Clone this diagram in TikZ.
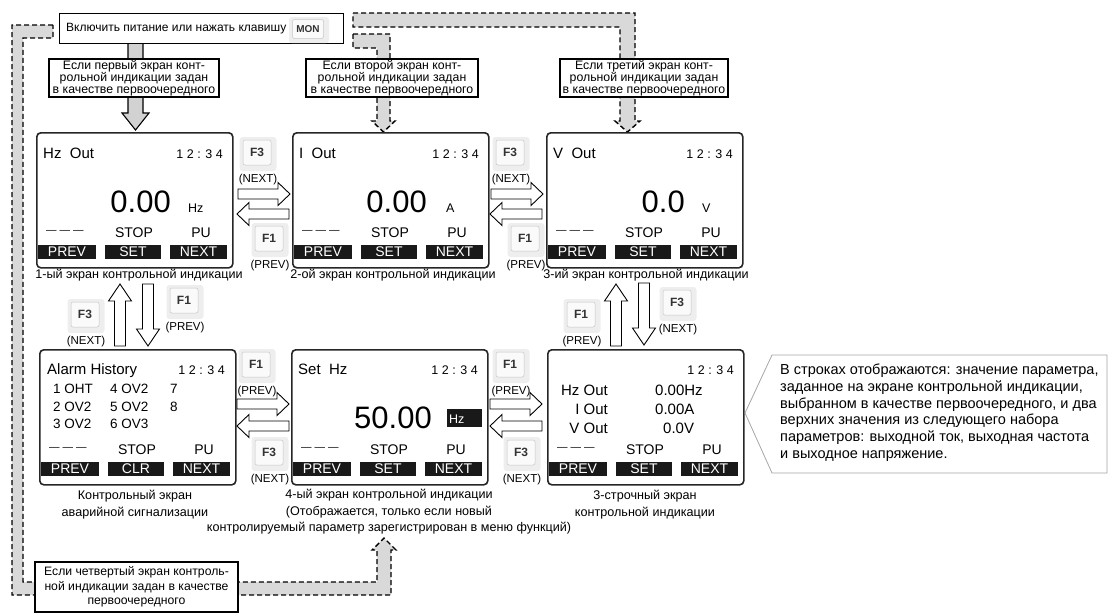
\documentclass[tikz,border=0pt]{standalone}
\usepackage{fontspec}
\setmainfont{Liberation Sans}
\usetikzlibrary{positioning}
\newcommand{\fsz}[1]{\fontsize{#1}{#1}\selectfont}
\tikzset{
    screen/.style={draw=black!85, rounded corners=4pt, line width=1.6pt, fill=white, minimum width=196pt, minimum height=135pt, inner sep=0pt, anchor=north west},
    softkey/.style={fill=black!90, text=white, inner sep=0pt, minimum height=13.5pt, font=\fsz{14}},
    infobox/.style={draw, line width=1.4pt, fill=white, align=center, inner sep=0pt, font=\fontsize{12.3}{12}\selectfont},
    band/.style={draw, fill=gray!30, dash pattern=on 5pt off 3pt, line width=1.4pt},
    keyback/.style={fill=gray!13, rounded corners=3pt, minimum width=37pt, minimum height=34pt, inner sep=0pt},
    keyface/.style={draw=gray!45, fill=gray!4, rounded corners=2pt, line width=0.5pt, minimum width=28pt, minimum height=25pt, inner sep=0pt, font=\fsz{12}\bfseries, text=black!80},
    keylbl/.style={inner sep=0pt, font=\fsz{11.5}},
    txt/.style={inner sep=0pt, anchor=base west},
    lbl/.style={inner sep=0pt, align=center, font=\fontsize{12.6}{16.5}\selectfont},
    hollow/.style={draw, fill=white, line width=0.9pt},
    harr/.pic={\draw[hollow] (-26,-5)--(14,-5)--(14,-11.5)--(26,0)--(14,11.5)--(14,5)--(-26,5)--cycle;},
    varr/.pic={\draw[hollow] (-31,-5.5)--(14,-5.5)--(14,-11.5)--(31,0)--(14,11.5)--(14,5.5)--(-31,5.5)--cycle;},
}
% key with its caption below
\newcommand{\fkey}[5]{%
  \node[keyback] (#1) at (#2,#3) {};
  \node[keyface] (#1f) at (#2-1,#3-1.5) {#4};
  \node[keylbl] (#1l) at (#2,#3+26) {(#5)};
}
% status line and soft keys of a screen
\newcommand{\scrbottom}[2]{%
  \node[inner sep=0pt, anchor=west, font=\fsz{10.5}] (#1dash) at (10,100) {—\hspace{3pt}—\hspace{3pt}—};
  \node[txt, anchor=base, font=\fsz{14}] (#1stop) at (98,105) {STOP};
  \node[txt, anchor=base, font=\fsz{14}] (#1pu) at (165,105) {PU};
  \node[softkey, minimum width=58pt] (#1prev) at (31,120) {PREV};
  \node[softkey, minimum width=56pt] (#1mid) at (97,120) {#2};
  \node[softkey, minimum width=57pt] (#1next) at (162.5,120) {NEXT};
}

\begin{document}
\begin{tikzpicture}[x=1pt, y=-1pt, font=\fsz{12}]
\useasboundingbox (0,0) rectangle (1109,614);

% dashed bands
\draw[band] (53,25) -- (12,25) -- (12,595) -- (391,595) -- (391,550) -- (396,550) -- (384,538) -- (372,550) -- (377,550) -- (377,582) -- (23,582) -- (23,38) -- (53,38) -- cycle;
\draw[band] (353,13) -- (635,13) -- (635,121) -- (640,121) -- (627.5,132) -- (615,121) -- (620,121) -- (620,27) -- (353,27) -- cycle;
\draw[band] (353,34) -- (390,34) -- (390,121) -- (395,121) -- (383.5,132) -- (372,121) -- (377,121) -- (377,48) -- (353,48) -- cycle;
% solid arrow to 1st screen
\draw[fill=gray!35, line width=1.1pt] (128,43) -- (143,43) -- (143,113) -- (149,113) -- (135.5,130) -- (122,113) -- (128,113) -- cycle;

% start box
\node[infobox, minimum width=284pt, minimum height=30pt, anchor=north west] (start) at (59,13) {};
\node[txt, anchor=west] (startt) at (66,28.5) {Включить питание или нажать клавишу};
\node[keyback, minimum width=40pt, minimum height=26pt] (mon) at (309,30) {};
\node[keyface, minimum width=31pt, minimum height=19pt, font=\fsz{10}\bfseries] (monf) at (308,29) {MON};

% priority boxes
\node[infobox, minimum width=170pt, minimum height=38pt] (pr1) at (134,78) {Если первый экран конт-\\рольной индикации задан\\в качестве первоочередного};
\node[infobox, minimum width=172pt, minimum height=38pt] (pr2) at (392,78) {Если второй экран конт-\\рольной индикации задан\\в качестве первоочередного};
\node[infobox, minimum width=168pt, minimum height=38pt] (pr3) at (644,78) {Если третий экран конт-\\рольной индикации задан\\в качестве первоочередного};
\node[infobox, minimum width=203pt, minimum height=50pt, font=\fontsize{12.2}{14.5}\selectfont] (pr4) at (136.5,587) {Если четвертый экран контроль-\\ной индикации задан в качестве\\первоочередного};

% 1st screen
\begin{scope}[shift={(36,132)}]
\node[screen] (scr1) at (0,0) {};
\node[txt, font=\fsz{15}] (scr1t) at (7,26) {Hz\ \ Out};
\node[txt, anchor=base east, font=\fsz{12.5}] (scr1c) at (187,26) {1 2 : 3 4};
\node[txt, anchor=base east, font=\fsz{31}] (scr1v) at (135,80) {0.00};
\node[txt, font=\fsz{12.5}] (scr1u) at (152,80) {Hz};
\scrbottom{scr1}{SET}
\end{scope}
% 2nd screen
\begin{scope}[shift={(292,132)}]
\node[screen] (scr2) at (0,0) {};
\node[txt, font=\fsz{15}] (scr2t) at (7,26) {I\ \ Out};
\node[txt, anchor=base east, font=\fsz{12.5}] (scr2c) at (187,26) {1 2 : 3 4};
\node[txt, anchor=base east, font=\fsz{31}] (scr2v) at (135,80) {0.00};
\node[txt, font=\fsz{12.5}] (scr2u) at (154,80) {A};
\scrbottom{scr2}{SET}
\end{scope}
% 3rd screen
\begin{scope}[shift={(546,132)}]
\node[screen] (scr3) at (0,0) {};
\node[txt, font=\fsz{15}] (scr3t) at (7,26) {V\ \ Out};
\node[txt, anchor=base east, font=\fsz{12.5}] (scr3c) at (187,26) {1 2 : 3 4};
\node[txt, anchor=base east, font=\fsz{31}] (scr3v) at (139,80) {0.0};
\node[txt, font=\fsz{12.5}] (scr3u) at (156,80) {V};
\scrbottom{scr3}{SET}
\end{scope}
% alarm screen
\begin{scope}[shift={(39,349)}]
\node[screen] (scr4) at (0,0) {};
\node[txt, font=\fsz{15}] (scr4t) at (8,25) {Alarm History};
\node[txt, anchor=base east, font=\fsz{12.5}] (scr4c) at (186,25) {1 2 : 3 4};
\node[txt, font=\fsz{13.5}] (al1) at (14,44) {1 OHT};
\node[txt, font=\fsz{13.5}] (al4) at (71,44) {4 OV2};
\node[txt, font=\fsz{13.5}] (al7) at (131,44) {7};
\node[txt, font=\fsz{13.5}] (al2) at (14,62) {2 OV2};
\node[txt, font=\fsz{13.5}] (al5) at (71,62) {5 OV2};
\node[txt, font=\fsz{13.5}] (al8) at (131,62) {8};
\node[txt, font=\fsz{13.5}] (al3) at (14,79) {3 OV2};
\node[txt, font=\fsz{13.5}] (al6) at (71,79) {6 OV3};
\scrbottom{scr4}{CLR}
\end{scope}
% 4th screen
\begin{scope}[shift={(291,349)}]
\node[screen] (scr5) at (0,0) {};
\node[txt, font=\fsz{15}] (scr5t) at (7,25) {Set\ \ Hz};
\node[txt, anchor=base east, font=\fsz{12.5}] (scr5c) at (187,25) {1 2 : 3 4};
\node[txt, anchor=base east, font=\fsz{31}] (scr5v) at (141,79) {50.00};
\fill[black!90] (156,60) rectangle (191,78);
\node[txt, text=white, font=\fsz{12.5}] (scr5u) at (158,74) {Hz};
\scrbottom{scr5}{SET}
\end{scope}
% 3-line screen
\begin{scope}[shift={(547,349)}]
\node[screen] (scr6) at (0,0) {};
\node[txt, anchor=base east, font=\fsz{12.5}] (scr6c) at (187,25) {1 2 : 3 4};
\node[txt, anchor=base east, font=\fsz{15}] (scr6a) at (61,46) {Hz Out};
\node[txt, anchor=base east, font=\fsz{15}] (scr6b) at (61,65) {I Out};
\node[txt, anchor=base east, font=\fsz{15}] (scr6d) at (61,84) {V Out};
\node[txt, font=\fsz{15}] (scr6av) at (108,46) {0.00Hz};
\node[txt, font=\fsz{15}] (scr6bv) at (108,65) {0.00A};
\node[txt, font=\fsz{15}] (scr6dv) at (116,84) {0.0V};
\scrbottom{scr6}{SET}
\end{scope}

% captions
\node[lbl] (cap1) at (139,275) {1-ый экран контрольной индикации};
\node[lbl] (cap2) at (393,275) {2-ой экран контрольной индикации};
\node[lbl] (cap3) at (646,275) {3-ий экран контрольной индикации};
\node[lbl] (cap4) at (135,504.5) {Контрольный экран\\аварийной сигнализации};
\node[lbl] (cap5) at (389,512) {4-ый экран контрольной индикации\\(Отображается, только если новый\\контролируемый параметр зарегистрирован в меню функций)};
\node[lbl] (cap6) at (645,504.5) {3-строчный экран\\контрольной индикации};

% keys
\fkey{ka}{258}{154}{F3}{NEXT}
\fkey{kb}{270}{240}{F1}{PREV}
\fkey{kc}{511}{154}{F3}{NEXT}
\fkey{kd}{526}{240}{F1}{PREV}
\fkey{ke}{86}{316}{F3}{NEXT}
\fkey{kf}{185}{302}{F1}{PREV}
\fkey{kg}{582}{316}{F1}{PREV}
\fkey{kh}{678}{304}{F3}{NEXT}
\fkey{ki}{257}{366}{F1}{PREV}
\fkey{kj}{270}{454}{F3}{NEXT}
\fkey{kk}{511}{366}{F1}{PREV}
\fkey{kl}{522}{454}{F3}{NEXT}

% hollow arrows
\pic at (264,194) {harr};
\pic[rotate=180] at (263,214) {harr};
\pic at (517,194) {harr};
\pic[rotate=180] at (516,214) {harr};
\pic at (263,404) {harr};
\pic[rotate=180] at (263,426) {harr};
\pic at (516,404) {harr};
\pic[rotate=180] at (516,426) {harr};
\pic[rotate=90] at (120,315) {varr};
\pic[rotate=-90] at (148,315) {varr};
\pic[rotate=90] at (616,315) {varr};
\pic[rotate=-90] at (644,314) {varr};

% note
\draw[draw=gray!70, line width=0.8pt, fill=white] (772,355) -- (1107,355) -- (1107,473) -- (772,473) -- (745,413) -- cycle;
\node[inner sep=0pt, anchor=north west, align=left, font=\fontsize{14.5}{16.7}\selectfont] (note) at (780,364) {В строках отображаются: значение параметра,\\заданное на экране контрольной индикации,\\выбранном в качестве первоочередного, и два\\верхних значения из следующего набора\\параметров: выходной ток, выходная частота\\и выходное напряжение.};
\end{tikzpicture}
\end{document}
